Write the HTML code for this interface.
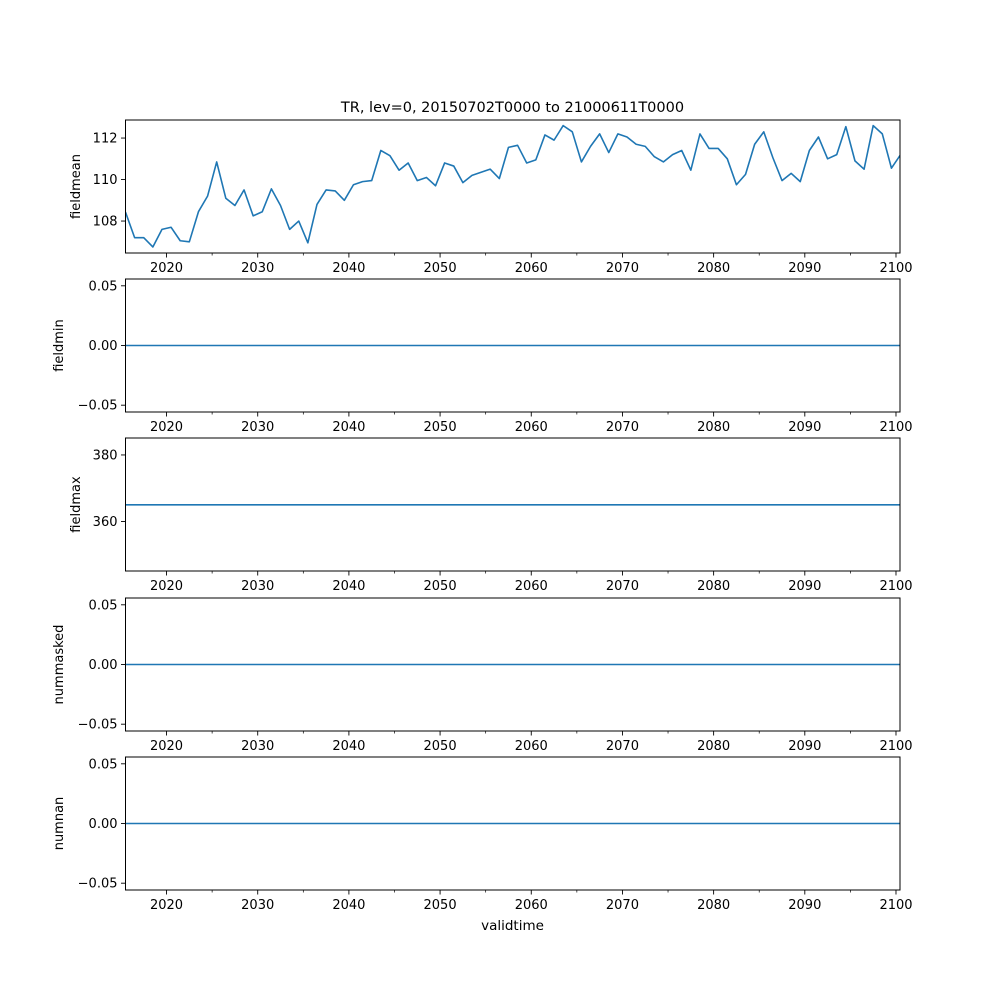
<!DOCTYPE html>
<html><head><meta charset="utf-8"><style>
html,body{margin:0;padding:0;background:#fff}
svg{display:block;font-family:"DejaVu Sans","Liberation Sans",sans-serif}
</style></head><body>
<svg id="fig" width="1000" height="1000" xmlns="http://www.w3.org/2000/svg">
<rect x="0" y="0" width="1000" height="1000" fill="#fff"/>
<text x="512.5" y="112" font-size="14.5" text-anchor="middle">TR, lev=0, 20150702T0000 to 21000611T0000</text>
<text x="512.5" y="930" font-size="13.5" text-anchor="middle">validtime</text>
</svg>
<script>
const fieldmeanValues=[108.43,107.2,107.2,106.75,107.6,107.7,107.05,107.0,108.45,109.2,110.85,109.1,108.75,109.5,108.25,108.45,109.55,108.75,107.6,108.0,106.95,108.8,109.5,109.45,109.0,109.75,109.9,109.95,111.4,111.15,110.45,110.8,109.95,110.1,109.7,110.8,110.65,109.85,110.2,110.35,110.5,110.05,111.55,111.65,110.8,110.95,112.15,111.9,112.6,112.3,110.85,111.6,112.2,111.3,112.2,112.05,111.7,111.6,111.1,110.85,111.2,111.4,110.45,112.2,111.5,111.5,111.0,109.75,110.25,111.7,112.3,111.05,109.95,110.3,109.9,111.4,112.05,111.0,111.2,112.55,110.9,110.5,112.6,112.2,110.55,111.2];
const fieldminValue=0;
const fieldmaxValue=365;
const nummaskedValue=0;
const numnanValue=0;
const startYear=2015.5;
const xTickLabels=[2020,2030,2040,2050,2060,2070,2080,2090,2100];
const minorTicks=[2025,2035,2045,2055,2065,2075,2085,2095];
const panels=[
 {name:'fieldmean',top:120,ymin:106.46,ymax:112.87,ticks:[108,110,112],labels:['108','110','112'],series:fieldmeanValues,labx:80},
 {name:'fieldmin',top:279,ymin:-0.0557,ymax:0.0557,ticks:[-0.05,0,0.05],labels:['−0.05','0.00','0.05'],value:fieldminValue,labx:63},
 {name:'fieldmax',top:438,ymin:345.1,ymax:385.1,ticks:[360,380],labels:['360','380'],value:fieldmaxValue,labx:80},
 {name:'nummasked',top:598,ymin:-0.0557,ymax:0.0557,ticks:[-0.05,0,0.05],labels:['−0.05','0.00','0.05'],value:nummaskedValue,labx:63},
 {name:'numnan',top:757,ymin:-0.0557,ymax:0.0557,ticks:[-0.05,0,0.05],labels:['−0.05','0.00','0.05'],value:numnanValue,labx:63}
];
const NS='http://www.w3.org/2000/svg';
const svg=document.getElementById('fig');
const L=125.5,R=900,H=133,X0=2015.5,X1=2100.44;
function xs(t){return L+(t-X0)/(X1-X0)*(R-L);}
function mk(tag,attrs,parent){const e=document.createElementNS(NS,tag);for(const k in attrs)e.setAttribute(k,attrs[k]);(parent||svg).appendChild(e);return e;}
const times=fieldmeanValues.map((v,i)=>startYear+i);
panels.forEach(p=>{
 const g=mk('g',{});
 
 
 const ys=v=>p.top+H-(v-p.ymin)/(p.ymax-p.ymin)*H;
 const cid='clip-'+p.name;
 const cp=mk('clipPath',{id:cid},g);mk('rect',{x:L,y:p.top,width:R-L,height:H},cp);
 let d;
 if(p.series){d=p.series.map((v,i)=>(i?'L':'M')+xs(times[i]).toFixed(2)+','+ys(v).toFixed(2)).join('');}
 else{d='M'+L+','+ys(p.value)+'L'+R+','+ys(p.value);}
 const line=mk('path',{d:d,fill:'none',stroke:'#1f77b4','stroke-width':1.6,'stroke-linejoin':'round','clip-path':'url(#'+cid+')'},g);
 
 
 const box=mk('rect',{x:L,y:p.top,width:R-L,height:H,fill:'none',stroke:'#000','stroke-width':1},g);
 
 
 const yb=p.top+H;
 xTickLabels.forEach(t=>{const x=xs(t);mk('line',{x1:x,x2:x,y1:yb,y2:yb+4.5,stroke:'#000','stroke-width':0.9},g);
  const tx=mk('text',{x:x,y:yb+19,'font-size':13,'text-anchor':'middle'},g);tx.textContent=t;
  
  });
 minorTicks.forEach(t=>{const x=xs(t);mk('line',{x1:x,x2:x,y1:yb,y2:yb+2.5,stroke:'#000','stroke-width':0.7},g);});
 p.ticks.forEach((v,i)=>{const y=ys(v);mk('line',{x1:L-4.5,x2:L,y1:y,y2:y,stroke:'#000','stroke-width':0.9},g);
  const tx=mk('text',{x:L-8,y:y+4.5,'font-size':13,'text-anchor':'end'},g);tx.textContent=p.labels[i];
  
  });
 const cy=p.top+H/2;
 const yl=mk('text',{x:p.labx,y:cy,'font-size':13,'text-anchor':'middle',transform:'rotate(-90 '+p.labx+' '+cy+')'},g);
 yl.textContent=p.name;
 
 
});
</script>
</body></html>
